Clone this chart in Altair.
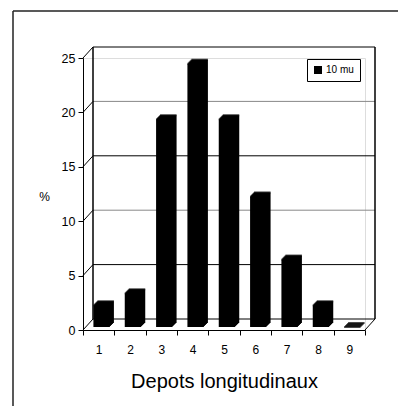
import altair as alt
import pandas as pd

# ---- data ----
categories = ["1", "2", "3", "4", "5", "6", "7", "8", "9"]
values = [2.0, 3.1, 19.1, 24.2, 19.1, 12.0, 6.2, 2.0, 0.0]
series_name = "10 mu"
y_ticks = [0, 5, 10, 15, 20, 25]
x_title = "Depots longitudinaux"
y_title = "%"

# ---- layout ----
W, H = 282, 272
DX, DY = 10, -11          # depth of the pseudo-3D back wall
PAD_L, PAD_T, PAD_R, PAD_B = 75, 50, 33, 76
FONT = "Liberation Sans"

bars_df = pd.DataFrame({"cat": categories, "value": values, "series": series_name})
grid_df = pd.DataFrame({"v": y_ticks})
one_df = pd.DataFrame({"a": [0]})

x_axis = alt.Axis(
    title=x_title, labelAngle=0, tickBand="extent", tickSize=5,
    labelFontSize=12, labelPadding=9, titleFontSize=20, titleFontWeight="normal",
    titlePadding=16, domainColor="black", tickColor="black", labelColor="black",
    titleColor="black", grid=False, labelFont=FONT, titleFont=FONT,
)
y_axis = alt.Axis(
    values=y_ticks, title=y_title, titleAngle=0, titleX=-39, titleY=138,
    titleAlign="center", titleBaseline="middle", titleFontSize=12,
    titleFontWeight="normal", labelFontSize=12.5, labelPadding=3, tickSize=5,
    tickColor="black", domainColor="black", labelColor="black", titleColor="black",
    grid=False, labelFont=FONT, titleFont=FONT,
)
y_scale = alt.Scale(domain=[0, 25], nice=False, zero=True)
x_scale = alt.Scale(paddingInner=0, paddingOuter=0)

x_enc = alt.X("cat:O", sort=categories, scale=x_scale, axis=x_axis)

# outer frame (top and left edges visible)
frame_top = alt.Chart(one_df).mark_rule(color="#222", strokeWidth=1.5).encode(
    x=alt.value(-70), x2=alt.value(W + PAD_R), y=alt.value(-47)
)
frame_left = alt.Chart(one_df).mark_rule(color="#222", strokeWidth=1.5).encode(
    x=alt.value(-70), y=alt.value(-47), y2=alt.value(H + PAD_B)
)

# back wall gridlines
grid = alt.Chart(grid_df).mark_rule(strokeWidth=1, yOffset=DY).encode(
    y=alt.Y("v:Q", scale=y_scale, axis=y_axis),
    x=alt.value(DX), x2=alt.value(W + DX),
    color=alt.condition("datum.v == 10 || datum.v == 20",
                        alt.value("#888888"), alt.value("black")),
)
# left wall diagonals from the front ticks to the back wall
diag = alt.Chart(grid_df).mark_rule(color="black", strokeWidth=1, y2Offset=DY).encode(
    y=alt.Y("v:Q", scale=y_scale, axis=y_axis), y2="v:Q",
    x=alt.value(0), x2=alt.value(DX),
)
# back wall verticals
wall_left = alt.Chart(one_df).mark_rule(color="black", strokeWidth=1.5,
                                        yOffset=DY, y2Offset=DY).encode(
    y=alt.Y(datum=25, scale=y_scale, axis=y_axis), y2=alt.Y2(datum=0),
    x=alt.value(DX),
)
wall_right = alt.Chart(one_df).mark_rule(color="black", strokeWidth=1.5,
                                         yOffset=DY, y2Offset=DY).encode(
    y=alt.Y(datum=25, scale=y_scale, axis=y_axis), y2=alt.Y2(datum=0),
    x=alt.value(W + DX),
)
# floor right diagonal
floor_right = alt.Chart(one_df).mark_rule(color="black", strokeWidth=1, y2Offset=DY).encode(
    y=alt.Y(datum=0, scale=y_scale, axis=y_axis), y2=alt.Y2(datum=0),
    x=alt.value(W), x2=alt.value(W + DX),
)

# pseudo-3D bars: stacked copies shifted up-right
bar_layers = []
for k in range(5):
    enc = dict(
        x=x_enc,
        y=alt.Y("value:Q", scale=y_scale, axis=y_axis),
    )
    if k == 0:
        enc["color"] = alt.Color(
            "series:N", scale=alt.Scale(range=["black"]),
            legend=alt.Legend(
                orient="none", legendX=224, legendY=1, title=None,
                symbolType="square", symbolSize=64, symbolFillColor="black",
                symbolStrokeWidth=0, labelFontSize=10, labelFont=FONT,
                labelColor="black", labelOffset=3, padding=6,
                strokeColor="black", fillColor="white",
            ),
        )
    bar_layers.append(
        alt.Chart(bars_df).mark_bar(
            width=16.5, color="black", xOffset=3 + k,
            yOffset=-3 - k, y2Offset=-2 - k,
        ).encode(**enc)
    )
    # top face of the prism (visible also for a zero value)
    bar_layers.append(
        alt.Chart(bars_df).mark_tick(
            size=16.5, thickness=2, color="black",
            xOffset=3 + k, yOffset=-3 - k,
        ).encode(x=x_enc, y=alt.Y("value:Q", scale=y_scale, axis=y_axis))
    )

chart = alt.layer(
    frame_top, frame_left, grid, diag, wall_left, wall_right, floor_right, *bar_layers
).properties(
    width=W, height=H,
    autosize=alt.AutoSizeParams(type="none"),
    padding={"left": PAD_L, "top": PAD_T, "right": PAD_R, "bottom": PAD_B},
    background="white",
).configure_view(strokeWidth=0).configure(font=FONT)

chart.save("out.html", embed_options={"renderer": "svg", "actions": False})
